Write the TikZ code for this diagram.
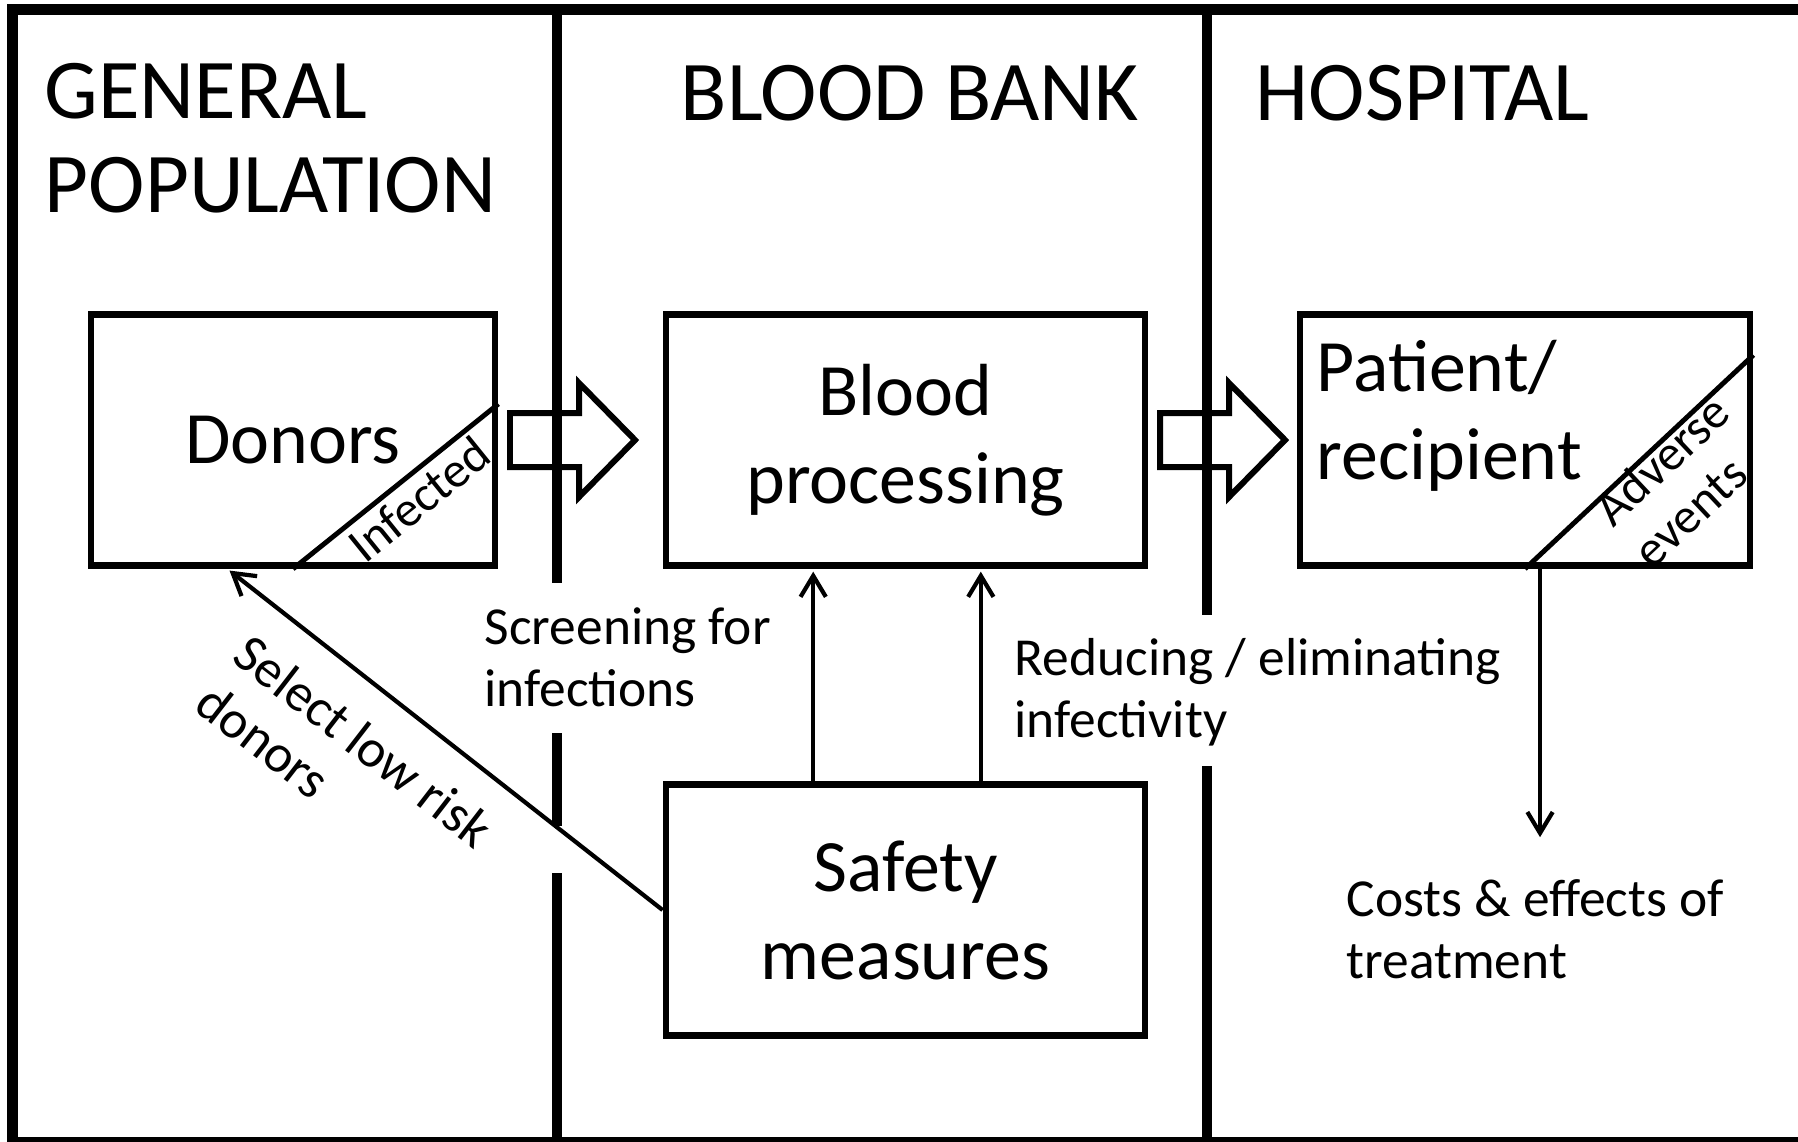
\documentclass[tikz,border=0pt]{standalone}
\usepackage{fontspec}
\setmainfont{Carlito}
\usetikzlibrary{calc,arrows.meta}
\newcommand{\bigtext}{\fontsize{21}{25}\selectfont}
\newcommand{\headtext}{\fontsize{24.2}{26.5}\selectfont}
\newcommand{\labeltext}{\fontsize{15.2}{17.4}\selectfont}
\newcommand{\smalltext}{\fontsize{14.2}{16.2}\selectfont}
\begin{document}
\begin{tikzpicture}[x=0.01cm,y=-0.01cm,
  frame/.style={line width=3.1pt},
  box/.style={draw,line width=1.85pt,minimum height=2.51cm,inner sep=0pt,font=\bigtext,align=center},
  diag/.style={line width=1.4pt},
  hollow/.style={line width=1.7pt,line join=miter},
  conn/.style={line width=1.2pt,shorten >=0.8pt,-{Straight Barb[length=6pt,width=7.2pt]}},
  lbl/.style={anchor=base west,align=left,inner sep=0pt,font=\labeltext}]
\useasboundingbox (0,0) rectangle (1798,1141);
\clip (0,0) rectangle (1798,1141);
\draw[frame](1800,9.5)--(12.5,9.5)--(12.5,1142)--(1800,1142);
\draw[frame](557,9.5)--(557,583)(557,733)--(557,826)(557,873)--(557,1142);
\draw[frame](1207,9.5)--(1207,615)(1207,766)--(1207,1142);
\node[anchor=base west,align=left,inner sep=0pt,font=\headtext] at (44,212){GENERAL\\POPULATION};
\node[anchor=base west,inner sep=0pt,font=\headtext] at (680,120){BLOOD BANK};
\node[anchor=base west,inner sep=0pt,font=\headtext] at (1255,120){HOSPITAL};
\node[box,minimum width=4.04cm] (donors) at (293,440){Donors};
\node[box,minimum width=4.79cm] (blood) at (905.5,440){Blood\\processing};
\node[box,minimum width=4.50cm] (patient) at (1525,440){};
\node[box,minimum width=4.79cm] (safety) at (905.5,910){Safety\\measures};
\node[anchor=base west,align=left,inner sep=0pt,font=\bigtext] at (1316,479){Patient/\\recipient};
\draw[diag](donors.south)--($(donors.north east)!0.36!(donors.south east)$);
\draw[diag](patient.south)--($(patient.north east)!0.17!(patient.south east)$);
\node[rotate=38.9,inner sep=0pt,font=\smalltext] at (419,499){Infected};
\node[rotate=43.2,align=left,inner sep=0pt,font=\smalltext] at (1681,481){Adverse\\events};
\foreach \x in {510,1160}
  \draw[hollow](\x,413)--++(69,0)--++(0,-30)--++(56,57)--++(-56,57)--++(0,-30)--++(-69,0)--cycle;
\draw[conn]($(safety.north west)!0.31!(safety.north east)$)--($(blood.south west)!0.31!(blood.south east)$);
\draw[conn]($(safety.north west)!0.655!(safety.north east)$)--($(blood.south west)!0.655!(blood.south east)$);
\draw[conn](safety.west)--($(donors.south west)!0.34!(donors.south east)$);
\coordinate (outcome) at (1540,840);
\draw[conn](patient.south -| outcome)--(outcome);
\node[rotate=-37.7,align=left,inner sep=0pt,font=\labeltext] at (345,765){Select low risk\\donors};
\node[lbl] at (484,706){Screening for\\infections};
\node[lbl] at (1014,737){Reducing / eliminating\\infectivity};
\node[lbl] at (1346,978){Costs \& effects of\\treatment};
\end{tikzpicture}
\end{document}
